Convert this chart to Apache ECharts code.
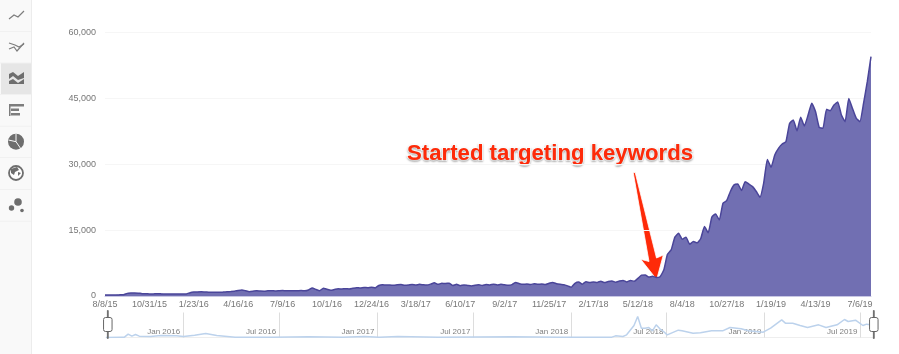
<!DOCTYPE html>
<html>
<head>
<meta charset="utf-8">
<style>
  html, body { margin: 0; padding: 0; background: #fff; }
  #chart { width: 899px; height: 354px; }
</style>
<script src="https://cdn.jsdelivr.net/npm/echarts@6/dist/echarts.min.js"></script>
</head>
<body>
<div id="chart"></div>
<script>
// weekly values, one row = 12 weeks (same step as the x labels)
const weeklyValues = [
  230, 240, 250, 240, 260, 280, 600, 680, 700, 650, 540, 520,
  480, 470, 520, 490, 450, 470, 480, 440, 430, 470, 480, 760,
  900, 930, 950, 910, 880, 840, 860, 830, 900, 960, 1000, 1060,
  1250, 1380, 1200, 990, 1080, 1200, 1130, 1100, 1180, 1220, 1150, 1200,
  1250, 1180, 1210, 1170, 1190, 1230, 1200, 1380, 1820, 1500, 1180, 1780,
  1550, 1320, 1480, 1640, 1600, 1650, 1620, 1780, 1900, 1820, 1950, 1880,
  2000, 1850, 2400, 2550, 2480, 2520, 2420, 2550, 2600, 2450, 2500, 2620,
  2500, 2650, 2550, 2500, 2700, 3000, 2650, 2880, 2850, 2900, 2400, 2650,
  2350, 2500, 2400, 2300, 2450, 2550, 2400, 2600, 2500, 2700, 2500, 2650,
  2550, 2450, 2600, 3100, 2800, 2650, 2750, 2600, 2800, 2650, 2750, 2600,
  2900, 3050, 2800, 2650, 2550, 2300, 2000, 2900, 3200, 2700, 3250, 3050,
  3200, 3100, 3350, 3050, 3300, 3400, 3150, 3400, 3550, 3200, 3550, 3350,
  4000, 4750, 4800, 4300, 4500, 4200, 4400, 5900, 9500, 10500, 13400, 14300,
  12900, 13400, 11800, 12400, 12100, 13100, 15800, 14400, 18000, 18700, 17300, 21100,
  21700, 23800, 25300, 25500, 24000, 26000, 25500, 24900, 23800, 22500, 25700, 31100,
  29300, 32100, 33600, 34600, 35100, 39300, 40100, 37600, 40700, 38700, 41200, 43900,
  42000, 38400, 38200, 42500, 42200, 43500, 44200, 41200, 39700, 45000, 42700, 40500,
  39700, 43900, 48800, 54500
];
const yTicks = [0, 15000, 30000, 45000, 60000];

// overview strip under the chart: week index -> height of the small line
const miniWeeks = [0, 4, 5, 6, 7, 8, 9, 12, 15, 19, 21, 24, 27, 30, 35, 45, 55, 64, 70, 74, 79, 90, 110, 123, 137, 138, 140, 141, 143, 144, 145, 146, 147, 148, 149, 150, 151, 152, 155, 156, 159, 161, 164, 167, 169, 172, 174, 178, 180, 183, 184, 186, 188, 190, 193, 195, 198, 200, 201, 203, 205, 206, 207];
const miniValues = [0, 1, 1, 10, 4, 9, 4, 3, 6, 5, 3, 7, 12, 6, 1, 1, 2, 1, 3, 1, 3, 1, 2, 1, 1, 5, 3, 8, 36, 63, 28, 28, 30, 20, 38, 26, 18, 8, 22, 20, 13, 14, 20, 20, 30, 26, 20, 16, 28, 53, 43, 43, 36, 30, 38, 30, 38, 54, 48, 52, 36, 40, 38];
// where the month lines sit, in weeks along the strip
const miniTickWeeks = [20.9, 46.9, 73.5, 99.5, 126, 151.8, 178.3, 204.3];
const miniTickLabels = ['Jan 2016', 'Jul 2016', 'Jan 2017', 'Jul 2017', 'Jan 2018', 'Jul 2018', 'Jan 2019', 'Jul 2019'];

const annotationText = 'Started targeting keywords';

const fontName = '"Liberation Sans", Arial, sans-serif';
const categories = weeklyValues.map((v, i) => {
  const d = new Date(2015, 7, 8 + 7 * i);
  return (d.getMonth() + 1) + '/' + d.getDate() + '/' + String(d.getFullYear()).slice(2);
});
const miniData = miniWeeks.map((w, i) => [w, miniValues[i]]);

// left icon column
const iconColor = '#7d7d7d';
const railRows = [31, 62.5, 94, 125.7, 157, 189, 220.7];
function line (points, width) {
  return { type: 'polyline', silent: true, shape: { points }, style: { stroke: iconColor, lineWidth: width || 1.2, fill: null } };
}
function poly (points, fill) {
  return { type: 'polygon', silent: true, shape: { points }, style: { fill: fill || '#6e6e6e' } };
}
function box (x, y, width, height, fill) {
  return { type: 'rect', silent: true, shape: { x, y, width, height }, style: { fill: fill || iconColor } };
}
function dot (cx, cy, r, fill) {
  return { type: 'circle', silent: true, shape: { cx, cy, r }, style: { fill: fill || '#6e6e6e' } };
}
const railIcons = [
  box(0, 0, 31, 354, '#f9f9f9'),
  box(31, 0, 1, 354, '#ececec'),
  box(1, 63, 30, 31, '#e6e6e6')
].concat(railRows.map(y => box(0, y, 31, 1, '#f1f1f1')), [
  line([[9, 19], [14, 15], [18, 17], [24, 11]]),
  line([[9, 43], [15, 45], [19, 47], [24, 44]]),
  line([[9, 49], [14, 47], [17, 51], [24, 43]]),
  poly([[9, 74], [13, 72], [18, 76], [24, 72], [24, 78], [18, 80], [13, 76], [9, 79]]),
  poly([[9, 81], [13, 79], [18, 83], [24, 79], [24, 84], [9, 84]]),
  box(9, 104, 1.5, 12),
  box(9, 104, 15, 2.5),
  box(11, 108.5, 8, 2.5),
  box(11, 113, 9, 2.5),
  dot(16, 141.7, 8),
  { type: 'polyline', silent: true, shape: { points: [[16, 134], [16, 141.7], [8.5, 140]] }, style: { stroke: '#f9f9f9', lineWidth: 1, fill: null } },
  { type: 'polyline', silent: true, shape: { points: [[16, 141.7], [21, 149]] }, style: { stroke: '#f9f9f9', lineWidth: 1, fill: null } },
  { type: 'circle', silent: true, shape: { cx: 16, cy: 173, r: 7 }, style: { fill: '#fff', stroke: '#6e6e6e', lineWidth: 1.8 } },
  poly([[11, 169], [17, 167], [19, 170], [15, 172], [14, 175], [11, 173]]),
  poly([[18, 172], [21, 173], [18, 176]]),
  dot(18, 202, 3.8),
  dot(11.5, 208, 2.7),
  dot(22, 210.5, 1.8)
]);

const annotation = [
  {
    type: 'text',
    silent: true,
    left: 406,
    top: 142,
    style: {
      text: annotationText,
      font: 'bold 22.2px ' + fontName,
      fill: '#fe2a09',
      stroke: '#fff',
      lineWidth: 2,
      textShadowColor: 'rgba(0,0,0,0.25)',
      textShadowBlur: 2,
      textShadowOffsetY: 1
    }
  },
  {
    type: 'polygon',
    silent: true,
    shape: { points: [[633.2, 172.5], [635.2, 172.5], [656.5, 258], [663.3, 255], [656.7, 279.5], [640.7, 259.3], [649, 261.5]] },
    style: { fill: '#fe2a09', stroke: 'rgba(255,255,255,0.8)', lineWidth: 1 }
  }
];

const chart = echarts.init(document.getElementById('chart'), null, { renderer: 'canvas' });
chart.setOption({
  animation: false,
  textStyle: { fontFamily: fontName },
  grid: [
    { left: 105, right: 28, top: 32.5, height: 263.5 },
    { left: 106, width: 768, top: 312.5, height: 25 }
  ],
  xAxis: [
    {
      type: 'category',
      data: categories,
      boundaryGap: false,
      axisLine: { lineStyle: { color: '#c8c7e4', width: 1 } },
      axisTick: { show: false },
      axisLabel: { interval: i => i % 12 === 0, color: '#777', fontSize: 9, margin: 4, hideOverlap: false }
    },
    {
      type: 'value',
      gridIndex: 1,
      min: 0,
      max: 208,
      splitLine: { show: false },
      axisLine: { lineStyle: { color: '#eeeeee', width: 1 } },
      axisTick: {
        inside: true,
        length: 25,
        lineStyle: { color: '#dddddd', width: 1 },
        customValues: miniTickWeeks
      },
      axisLabel: {
        inside: true,
        margin: 2,
        color: '#808080',
        fontSize: 8,
        align: 'right',
        padding: [0, 3, 0, 0],
        customValues: miniTickWeeks,
        formatter: value => miniTickLabels[miniTickWeeks.indexOf(value)] || ''
      }
    }
  ],
  yAxis: [
    {
      type: 'value',
      min: yTicks[0],
      max: yTicks[yTicks.length - 1],
      interval: yTicks[1],
      axisLine: { show: false },
      axisTick: { show: false },
      axisLabel: { color: '#777', fontSize: 9, margin: 9, formatter: v => v.toLocaleString('en-US') },
      splitLine: { lineStyle: { color: '#f6f6f6', width: 1 } }
    },
    { type: 'value', gridIndex: 1, min: 0, max: 75, show: false }
  ],
  dataZoom: [{
    type: 'slider',
    xAxisIndex: 0,
    start: 0,
    end: 100,
    left: 106,
    width: 768,
    top: 312,
    height: 25,
    backgroundColor: 'transparent',
    borderColor: 'transparent',
    fillerColor: 'transparent',
    showDetail: false,
    showDataShadow: false,
    brushSelect: false,
    moveHandleSize: 0,
    handleIcon: 'path://M3.85 0h0.8v7h-0.8z M2 7h4.5a2 2 0 0 1 2 2v10a2 2 0 0 1-2 2h-4.5a2 2 0 0 1-2-2v-10a2 2 0 0 1 2-2z M3.85 21h0.8v7h-0.8z',
    handleSize: '112%',
    handleStyle: { color: '#fff', borderColor: '#666', borderWidth: 1 }
  }],
  series: [
    {
      type: 'line',
      data: weeklyValues,
      showSymbol: false,
      smooth: 0.15,
      lineStyle: { color: '#4a4599', width: 1.5 },
      areaStyle: { color: '#716fb2', opacity: 1 }
    },
    {
      type: 'line',
      xAxisIndex: 1,
      yAxisIndex: 1,
      data: miniData,
      showSymbol: false,
      lineStyle: { color: '#bcd2ec', width: 1.5 }
    }
  ],
  graphic: railIcons.concat(annotation)
});
</script>
</body>
</html>
